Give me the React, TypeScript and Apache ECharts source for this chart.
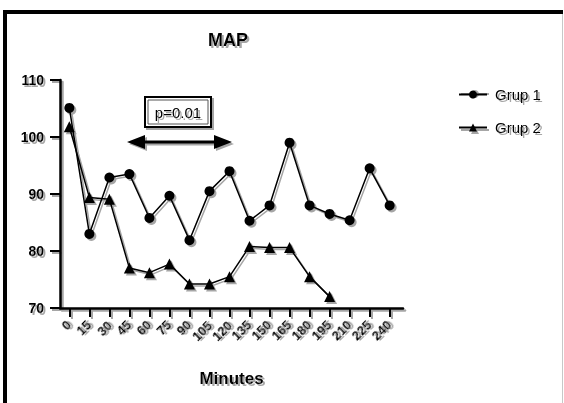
import React, { useEffect, useRef } from "react";
import * as echarts from "echarts";

const minutes = [0, 15, 30, 45, 60, 75, 90, 105, 120, 135, 150, 165, 180, 195, 210, 225, 240];
const grup1 = [105.1, 83.0, 92.9, 93.5, 85.8, 89.7, 81.9, 90.5, 94.0, 85.3, 88.0, 99.0, 88.0, 86.5, 85.4, 94.5, 88.0];
const grup2 = [101.8, 89.4, 89.1, 77.0, 76.2, 77.7, 74.2, 74.2, 75.5, 80.8, 80.6, 80.6, 75.5, 72.0];
const yTicks = [70, 80, 90, 100, 110];
const seriesNames = ["Grup 1", "Grup 2"];

const FONT = "'Liberation Sans', Arial, sans-serif";
const INK = "#000000";
const SHADE = "#a6a6a6";
const TSH = { textShadowColor: SHADE, textShadowOffsetX: 2, textShadowOffsetY: 2, textShadowBlur: 1 };

export default function App() {
  const ref = useRef<HTMLDivElement>(null);
  useEffect(() => {
    const chart = echarts.init(ref.current!, null, { renderer: "svg" });
    const mk = (vals: number[]) => vals.map((v, i) => [minutes[i], v]);
    const main = (gi: number) => gi === 0;

    const xAx = (gi: number, color: string, z: number) => ({
      type: "value",
      gridIndex: gi,
      z,
      min: -7,
      max: 250,
      name: main(gi) ? "Minutes" : "",
      nameLocation: "middle",
      nameGap: 62,
      nameTextStyle: { fontFamily: FONT, fontSize: 17, fontWeight: "bold", color, ...TSH },
      axisLine: { show: true, onZero: false, lineStyle: { color, width: 2.5 } },
      axisTick: { show: true, inside: false, length: 9, customValues: minutes, lineStyle: { color, width: 2 } },
      axisLabel: {
        show: main(gi),
        customValues: minutes,
        rotate: 45,
        margin: 15,
        fontFamily: FONT,
        fontSize: 13,
        fontWeight: "bold",
        color,
        ...TSH,
      },
      splitLine: { show: false },
    });
    const yAx = (gi: number, color: string, z: number) => ({
      type: "value",
      gridIndex: gi,
      z,
      min: 70,
      max: 110,
      interval: 10,
      axisLine: { show: true, onZero: false, lineStyle: { color, width: 2.5 } },
      axisTick: { show: true, inside: false, length: 10, lineStyle: { color, width: 2 } },
      axisLabel: {
        show: main(gi),
        customValues: yTicks,
        margin: 16,
        fontFamily: FONT,
        fontSize: 14,
        fontWeight: "bold",
        color,
        ...TSH,
      },
      splitLine: { show: false },
    });
    const ser = (name: string, vals: number[], sym: string, color: string, idx: number, z: number) => ({
      name,
      type: "line",
      xAxisIndex: idx,
      yAxisIndex: idx,
      z,
      data: mk(vals),
      symbol: sym,
      symbolSize: sym === "circle" ? 10 : 11,
      itemStyle: { color },
      lineStyle: { color, width: 1.5 },
    });
    const legendBase = (left: number, top: number, color: string, z: number, data: string[], withText: boolean) => ({
      orient: "vertical",
      left,
      top,
      z,
      itemWidth: 28,
      itemHeight: 10,
      itemGap: withText ? 18 : 27,
      selectedMode: false,
      formatter: withText ? "{name}" : () => "",
      textStyle: { fontFamily: FONT, fontSize: 15, color, padding: [0, 0, 0, 3], ...TSH },
      data,
    });

    chart.setOption({
      animation: false,
      backgroundColor: "#ffffff",
      title: {
        text: "MAP",
        left: 223,
        top: 26,
        textAlign: "center",
        textStyle: { fontFamily: FONT, fontSize: 18, fontWeight: "bold", color: INK, ...TSH },
      },
      legend: [
        legendBase(455, 84, SHADE, 3, seriesNames.map((n) => n + " "), false),
        legendBase(453, 82, INK, 4, seriesNames, true),
      ],
      grid: [
        { left: 60, right: 161, top: 80, bottom: 95 },
        { left: 62, right: 159, top: 82, bottom: 93 },
      ],
      xAxis: [xAx(0, INK, 1), xAx(1, SHADE, 0)],
      yAxis: [yAx(0, INK, 1), yAx(1, SHADE, 0)],
      series: [
        ser(seriesNames[0] + " ", grup1, "circle", SHADE, 1, 1.5),
        ser(seriesNames[1] + " ", grup2, "triangle", SHADE, 1, 1.5),
        ser(seriesNames[0], grup1, "circle", INK, 0, 2),
        ser(seriesNames[1], grup2, "triangle", INK, 0, 2),
      ],
      graphic: [
        { type: "rect", shape: { x: 3, y: 10, width: 560, height: 4 }, style: { fill: INK } },
        { type: "rect", shape: { x: 3, y: 10, width: 4, height: 400 }, style: { fill: INK } },
        { type: "line", shape: { x1: 562.5, y1: 14, x2: 562.5, y2: 403 }, style: { stroke: "#c8c8c8", lineWidth: 1 } },
        {
          type: "rect",
          z: 10,
          shape: { x: 147, y: 99, width: 66, height: 30 },
          style: { fill: "none", stroke: SHADE, lineWidth: 2 },
        },
        {
          type: "rect",
          z: 11,
          shape: { x: 145, y: 97, width: 66, height: 30 },
          style: { fill: "#fff", stroke: INK, lineWidth: 2 },
        },
        {
          type: "rect",
          z: 11,
          shape: { x: 148, y: 100, width: 60, height: 24 },
          style: { fill: "none", stroke: "#555", lineWidth: 1 },
        },
        {
          type: "text",
          z: 12,
          x: 178,
          y: 112,
          style: { text: "p=0.01", font: `15px ${FONT}`, fill: INK, align: "center", verticalAlign: "middle", ...TSH },
        },
        {
          type: "polygon",
          z: 10,
          x: 2,
          y: 2,
          shape: {
            points: [
              [127, 142], [145, 135], [145, 140.5], [214, 140.5], [214, 135], [232, 142],
              [214, 149], [214, 143.5], [145, 143.5], [145, 149],
            ],
          },
          style: { fill: SHADE },
        },
        {
          type: "polygon",
          z: 11,
          shape: {
            points: [
              [127, 142], [145, 135], [145, 140.5], [214, 140.5], [214, 135], [232, 142],
              [214, 149], [214, 143.5], [145, 143.5], [145, 149],
            ],
          },
          style: { fill: INK },
        },
      ],
    });
    return () => chart.dispose();
  }, []);
  return <div ref={ref} style={{ width: 564, height: 403, position: "absolute", left: 0, top: 0 }} />;
}
